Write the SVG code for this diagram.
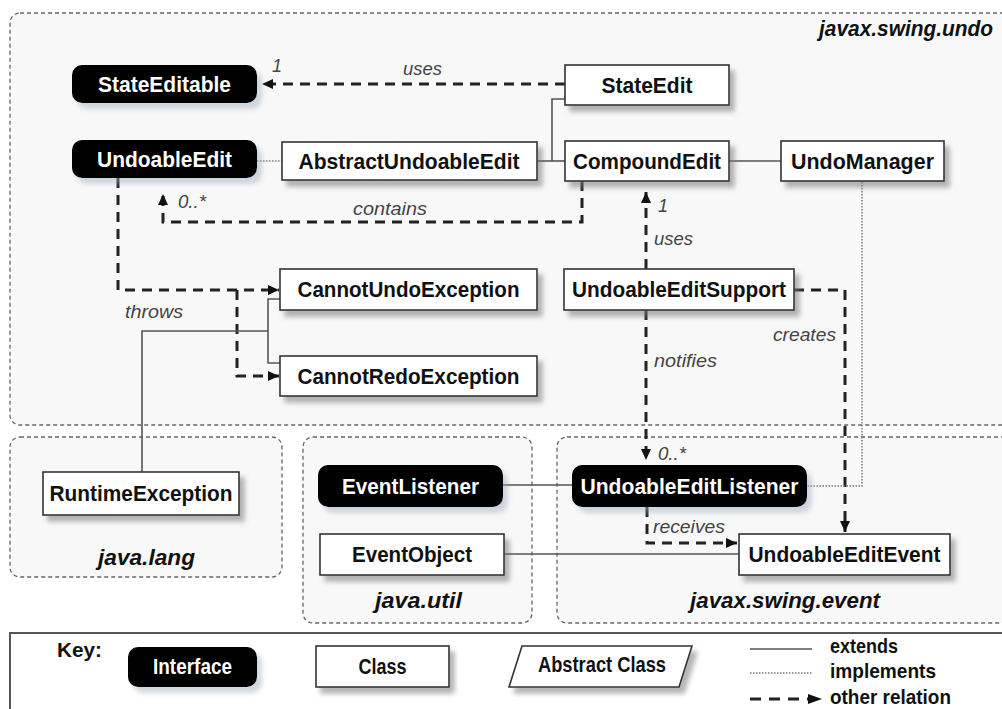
<svg xmlns="http://www.w3.org/2000/svg" width="1002" height="709" viewBox="0 0 1002 709">
<defs>
<filter id="sh" x="-10%" y="-20%" width="130%" height="160%">
<feDropShadow dx="5" dy="6" stdDeviation="2.5" flood-color="#777" flood-opacity="0.55"/>
</filter>
<filter id="sh2" x="-10%" y="-20%" width="130%" height="160%">
<feDropShadow dx="5" dy="6" stdDeviation="2.5" flood-color="#9ab" flood-opacity="0.45"/>
</filter>
<marker id="arr" markerUnits="userSpaceOnUse" markerWidth="11" markerHeight="10" viewBox="0 0 11 10" refX="11" refY="5" orient="auto">
<path d="M0,0 L11,5 L0,10 z" fill="#111"/>
</marker>
<style>
.pkg{fill:#f8f8f8;stroke:#666;stroke-width:1.3;stroke-dasharray:4 3}
.cls{fill:#fff;stroke:#333;stroke-width:1.6;filter:url(#sh)}
.ifc{fill:#000;filter:url(#sh2)}
.nt{font-family:"Liberation Sans",Arial,sans-serif;font-weight:bold;font-size:22.5px;text-anchor:middle;fill:#111}
.wt{fill:#fff}
.lbl{font-family:"Liberation Sans",Arial,sans-serif;font-style:italic;font-size:18px;fill:#444}
.pl{font-family:"Liberation Sans",Arial,sans-serif;font-style:italic;font-weight:bold;font-size:22px;fill:#111}
.key{font-family:"Liberation Sans",Arial,sans-serif;font-weight:bold;font-size:21px;fill:#111}
.dep{fill:none;stroke:#222;stroke-width:3;stroke-dasharray:10 7}
.ext{fill:none;stroke:#555;stroke-width:1.6}
.imp{fill:none;stroke:#777;stroke-width:1.5;stroke-dasharray:1.5 1.5}
</style>
</defs>
<rect width="1002" height="709" fill="#fff"/>

<g id="packages">
<rect class="pkg" x="10" y="13" width="1010" height="412" rx="10"/>
<text class="pl" x="819" y="36" textLength="174" lengthAdjust="spacingAndGlyphs">javax.swing.undo</text>
<rect class="pkg" x="10" y="437" width="272" height="140" rx="10"/>
<text class="pl" x="98" y="565" textLength="97" lengthAdjust="spacingAndGlyphs">java.lang</text>
<rect class="pkg" x="303" y="437" width="229" height="186" rx="10"/>
<text class="pl" x="375" y="608" textLength="87" lengthAdjust="spacingAndGlyphs">java.util</text>
<rect class="pkg" x="557" y="437" width="470" height="186" rx="10"/>
<text class="pl" x="690" y="608" textLength="190" lengthAdjust="spacingAndGlyphs">javax.swing.event</text>
</g>

<g id="connectors">
<path class="dep" d="M565,84 H262" marker-end="url(#arr)"/>
<path class="imp" d="M257,161 H282"/>
<path class="ext" d="M537,161 H565"/>
<path class="ext" d="M552,161 V99 H565"/>
<path class="ext" d="M729,161 H781"/>
<path class="dep" d="M582,181 V222 H163 V194" marker-end="url(#arr)"/>
<path class="dep" d="M646,269 V192" marker-end="url(#arr)"/>
<path class="dep" d="M118,178 V290 H279" marker-end="url(#arr)"/>
<path class="dep" d="M237,290 V376 H279" marker-end="url(#arr)"/>
<path class="ext" d="M142,472 V331 H268"/>
<path class="ext" d="M280,299 H268 V363 H280"/>
<path class="dep" d="M646,310 V460" marker-end="url(#arr)"/>
<path class="dep" d="M794,290 H845 V532" marker-end="url(#arr)"/>
<path class="imp" d="M862,182 V486 H807"/>
<path class="ext" d="M503,485 H572"/>
<path class="ext" d="M504,554 H739"/>
<path class="dep" d="M647,507 V543 H737" marker-end="url(#arr)"/>
<text class="lbl" x="272" y="72">1</text>
<text class="lbl" x="403" y="75" textLength="39" lengthAdjust="spacingAndGlyphs">uses</text>
<text class="lbl" x="178" y="208" textLength="28" lengthAdjust="spacingAndGlyphs">0..*</text>
<text class="lbl" x="353" y="215" textLength="74" lengthAdjust="spacingAndGlyphs">contains</text>
<text class="lbl" x="658" y="212">1</text>
<text class="lbl" x="654" y="245" textLength="39" lengthAdjust="spacingAndGlyphs">uses</text>
<text class="lbl" x="125" y="318" textLength="58" lengthAdjust="spacingAndGlyphs">throws</text>
<text class="lbl" x="773" y="341" textLength="63" lengthAdjust="spacingAndGlyphs">creates</text>
<text class="lbl" x="654" y="367" textLength="63" lengthAdjust="spacingAndGlyphs">notifies</text>
<text class="lbl" x="658" y="460" textLength="28" lengthAdjust="spacingAndGlyphs">0..*</text>
<text class="lbl" x="653" y="533" textLength="72" lengthAdjust="spacingAndGlyphs">receives</text>
</g>

<g id="StateEditable"><rect class="ifc" x="72" y="65" width="185" height="38" rx="10"/><text class="nt wt" x="164.5" y="92" textLength="133" lengthAdjust="spacingAndGlyphs">StateEditable</text></g>
<g id="UndoableEdit"><rect class="ifc" x="72" y="140" width="185" height="38" rx="10"/><text class="nt wt" x="164.5" y="167" textLength="135" lengthAdjust="spacingAndGlyphs">UndoableEdit</text></g>
<g id="AbstractUndoableEdit"><rect class="cls" x="282" y="142" width="255" height="38"/><text class="nt" x="409" y="169" textLength="221" lengthAdjust="spacingAndGlyphs">AbstractUndoableEdit</text></g>
<g id="StateEdit"><rect class="cls" x="565" y="65" width="164" height="40"/><text class="nt" x="647" y="93" textLength="91" lengthAdjust="spacingAndGlyphs">StateEdit</text></g>
<g id="CompoundEdit"><rect class="cls" x="565" y="141" width="164" height="40"/><text class="nt" x="647" y="169" textLength="148" lengthAdjust="spacingAndGlyphs">CompoundEdit</text></g>
<g id="UndoManager"><rect class="cls" x="781" y="141" width="163" height="40"/><text class="nt" x="862.5" y="169" textLength="143" lengthAdjust="spacingAndGlyphs">UndoManager</text></g>
<g id="CannotUndoException"><rect class="cls" x="280" y="269" width="257" height="41"/><text class="nt" x="408.5" y="297" textLength="222" lengthAdjust="spacingAndGlyphs">CannotUndoException</text></g>
<g id="CannotRedoException"><rect class="cls" x="280" y="356" width="257" height="40"/><text class="nt" x="408.5" y="384" textLength="222" lengthAdjust="spacingAndGlyphs">CannotRedoException</text></g>
<g id="UndoableEditSupport"><rect class="cls" x="564" y="269" width="230" height="41"/><text class="nt" x="679" y="297" textLength="214" lengthAdjust="spacingAndGlyphs">UndoableEditSupport</text></g>
<g id="RuntimeException"><rect class="cls" x="43" y="472" width="196" height="43"/><text class="nt" x="141" y="501" textLength="183" lengthAdjust="spacingAndGlyphs">RuntimeException</text></g>
<g id="EventListener"><rect class="ifc" x="318" y="465" width="185" height="42" rx="10"/><text class="nt wt" x="410.5" y="494" textLength="137" lengthAdjust="spacingAndGlyphs">EventListener</text></g>
<g id="EventObject"><rect class="cls" x="320" y="534" width="184" height="41"/><text class="nt" x="412" y="562" textLength="120" lengthAdjust="spacingAndGlyphs">EventObject</text></g>
<g id="UndoableEditListener"><rect class="ifc" x="572" y="465" width="235" height="42" rx="10"/><text class="nt wt" x="689.5" y="494" textLength="218" lengthAdjust="spacingAndGlyphs">UndoableEditListener</text></g>
<g id="UndoableEditEvent"><rect class="cls" x="739" y="534" width="211" height="41"/><text class="nt" x="844.5" y="562" textLength="192" lengthAdjust="spacingAndGlyphs">UndoableEditEvent</text></g>

<g id="key">
<rect x="10" y="633" width="1010" height="100" fill="#fff" stroke="#555" stroke-width="2"/>
<text class="key" x="57" y="657" textLength="45" lengthAdjust="spacingAndGlyphs">Key:</text>
<rect class="ifc" x="128" y="647" width="129" height="40" rx="10"/>
<text class="nt wt" x="192.5" y="674" font-size="20" textLength="79" lengthAdjust="spacingAndGlyphs">Interface</text>
<rect class="cls" x="316" y="646" width="133" height="41"/>
<text class="nt" x="382.5" y="674" font-size="20" textLength="48" lengthAdjust="spacingAndGlyphs">Class</text>
<polygon class="cls" points="522,646 692,646 679,687 509,687"/>
<text class="nt" x="602" y="672" font-size="20" textLength="128" lengthAdjust="spacingAndGlyphs">Abstract Class</text>
<path class="ext" d="M750,649 H812"/>
<path class="imp" d="M750,673 H812"/>
<path d="M750,699 H809" fill="none" stroke="#222" stroke-width="3" stroke-dasharray="11 8"/>
<path d="M808,694 L822,699 L808,704 z" fill="#111"/>
<text class="key" x="830" y="653" textLength="68" lengthAdjust="spacingAndGlyphs">extends</text>
<text class="key" x="830" y="678" textLength="106" lengthAdjust="spacingAndGlyphs">implements</text>
<text class="key" x="830" y="704" textLength="121" lengthAdjust="spacingAndGlyphs">other relation</text>
</g>
</svg>
